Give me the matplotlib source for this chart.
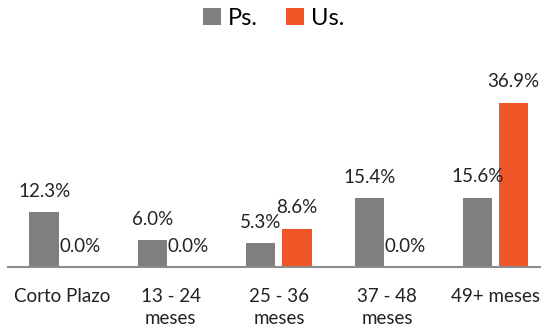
import numpy as np
import matplotlib
matplotlib.use("Agg")
import matplotlib.pyplot as plt

# Data
categories = ["Corto Plazo", "13 - 24\nmeses", "25 - 36\nmeses", "37 - 48\nmeses", "49+ meses"]
ps_values = [12.3, 6.0, 5.3, 15.4, 15.6]
us_values = [0.0, 0.0, 8.6, 0.0, 36.9]
series_names = ["Ps.", "Us."]

gray = "#7f7f7f"
orange = "#f05528"

plt.rcParams['font.family'] = ['Lato', 'DejaVu Sans']

fig = plt.figure(figsize=(5.48, 3.3), dpi=100)
ax = fig.add_axes([8 / 548, 1 - 267 / 330, 532 / 548, 207 / 330])

x = np.arange(len(categories))
w = 0.27
off = 0.167
b1 = ax.bar(x - off, ps_values, w, color=gray, label=series_names[0])
b2 = ax.bar(x + off, us_values, w, color=orange, label=series_names[1])

# value labels above bars
for bars, vals in [(b1, ps_values), (b2, us_values)]:
    for rect, v in zip(bars, vals):
        ax.annotate(f"{v:.1f}%", (rect.get_x() + rect.get_width() / 2, v),
                    xytext=(0, 9), textcoords="offset points",
                    ha="center", va="bottom", fontsize=13.5, color="#222222")

ax.set_xlim(-0.5, 4.41)
ax.set_ylim(0, 46.5)
ax.set_xticks(x)
ax.set_xticklabels(categories, fontsize=13.5, color="#222222", linespacing=1.4)
ax.tick_params(axis="x", length=0, pad=15)
ax.set_yticks([])
for s in ["top", "right", "left"]:
    ax.spines[s].set_visible(False)
ax.spines["bottom"].set_color("#8c8c8c")
ax.spines["bottom"].set_linewidth(1.5)

fig.legend(handles=[b1, b2], loc="upper center", bbox_to_anchor=(0.5, 1.04),
           ncol=2, frameon=False, fontsize=17, handlelength=0.75, handleheight=0.75,
           handletextpad=0.3, columnspacing=1.2)

fig.savefig("out.png", dpi=100)
